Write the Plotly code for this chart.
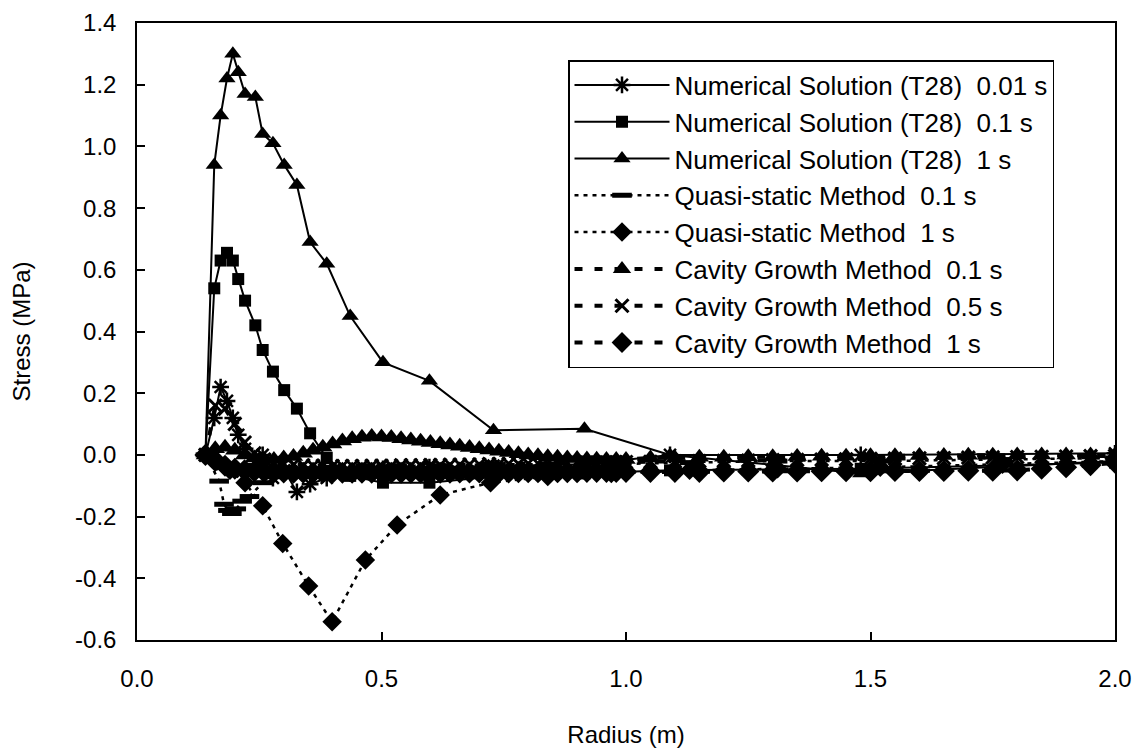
import plotly.graph_objects as go

# ---------------- data ----------------
# Numerical solution (T28) radii
r_num = [0.14, 0.158, 0.171, 0.184, 0.196, 0.207, 0.221, 0.242, 0.257, 0.278, 0.301,
         0.327, 0.354, 0.388, 0.436, 0.503, 0.598, 0.729, 0.915, 1.09, 1.48, 2.0]
num_001 = [0.0, 0.12, 0.22, 0.175, 0.12, 0.065, 0.02, -0.03, 0.0, -0.075, -0.05,
           -0.12, -0.095, -0.075, -0.06, -0.045, -0.04, -0.035, -0.03, 0.0, 0.0, 0.005]
num_01 = [0.0, 0.54, 0.63, 0.655, 0.63, 0.57, 0.50, 0.42, 0.34, 0.27, 0.21,
          0.15, 0.07, -0.01, -0.068, -0.09, -0.09, -0.07, -0.06, -0.05, -0.045, -0.025]
num_1 = [0.0, 0.94, 1.10, 1.22, 1.30, 1.24, 1.17, 1.16, 1.04, 1.01, 0.94,
         0.875, 0.69, 0.62, 0.45, 0.30, 0.24, 0.08, 0.085, 0.0, -0.06, -0.02]

# Quasi-static method
r_qs01 = [0.14, 0.168, 0.178, 0.186, 0.194, 0.203, 0.215, 0.23, 0.257, 0.298, 0.351, 0.399,
          0.467, 0.532, 0.62, 0.723, 0.84, 0.97, 1.13, 1.31, 1.52, 1.77, 2.0]
qs_01 = [0.0, -0.085, -0.16, -0.18, -0.19, -0.175, -0.15, -0.135, -0.09, -0.06, -0.045, -0.04,
         -0.035, -0.035, -0.035, -0.03, -0.03, -0.03, -0.025, -0.02, -0.02, -0.015, -0.01]
r_qs1 = [0.14, 0.164, 0.19, 0.221, 0.257, 0.298, 0.351, 0.399, 0.467, 0.532, 0.62, 0.723,
         0.84, 0.97, 1.13, 1.31, 1.52, 1.77, 2.0]
qs_1 = [0.0, -0.02, -0.05, -0.09, -0.165, -0.287, -0.425, -0.541, -0.341, -0.227, -0.13, -0.09,
        -0.07, -0.06, -0.05, -0.045, -0.04, -0.03, -0.02]

# Cavity growth method radii
r_cg = [0.14, 0.16, 0.18, 0.20, 0.22, 0.24, 0.26, 0.28, 0.30, 0.32, 0.34, 0.36, 0.38, 0.40,
        0.42, 0.44, 0.46, 0.48, 0.50, 0.52, 0.54, 0.56, 0.58, 0.60, 0.62, 0.64, 0.66, 0.68,
        0.70, 0.72, 0.74, 0.76, 0.78, 0.80, 0.82, 0.84, 0.86, 0.88, 0.90, 0.92, 0.94, 0.96,
        0.98, 1.00, 1.05, 1.10, 1.15, 1.20, 1.25, 1.30, 1.35, 1.40, 1.45, 1.50, 1.55, 1.60,
        1.65, 1.70, 1.75, 1.80, 1.85, 1.90, 1.95, 2.00]
cg_01 = [0.000, 0.020, 0.025, 0.015, 0.000, -0.010, -0.015, -0.015, -0.010, -0.005, 0.005,
         0.015, 0.025, 0.035, 0.045, 0.052, 0.057, 0.060, 0.058, 0.056, 0.052, 0.048, 0.044,
         0.040, 0.036, 0.032, 0.028, 0.024, 0.020, 0.016, 0.012, 0.008, 0.004, 0.000, -0.003,
         -0.006, -0.008, -0.010, -0.012, -0.013, -0.014, -0.015, -0.015, -0.015,
         -0.010, -0.010, -0.008, -0.008, -0.006, -0.006, -0.005, -0.004, -0.004, -0.003,
         -0.003, -0.002, -0.002, -0.001, -0.001, 0.000, 0.000, 0.000, 0.000, 0.000]
cg_05 = [0.000, 0.160, 0.150, 0.100, 0.040, 0.005, -0.015, -0.025, -0.030, -0.032, -0.034,
         -0.035, -0.035, -0.036, -0.036, -0.036, -0.036, -0.035, -0.035, -0.035, -0.034,
         -0.034, -0.034, -0.033, -0.033, -0.032, -0.032, -0.031, -0.031, -0.030, -0.030,
         -0.029, -0.029, -0.028, -0.028, -0.027, -0.027, -0.026, -0.026, -0.025, -0.025,
         -0.024, -0.024, -0.023,
         -0.022, -0.021, -0.020, -0.019, -0.018, -0.017, -0.016, -0.015, -0.014, -0.013,
         -0.012, -0.011, -0.010, -0.009, -0.008, -0.007, -0.006, -0.005, -0.004, -0.003]
cg_1 = [0.000, -0.020, -0.035, -0.045, -0.050, -0.053, -0.055, -0.056, -0.057, -0.058,
        -0.058, -0.058, -0.058, -0.058, -0.058, -0.058, -0.058, -0.058, -0.058, -0.058,
        -0.058, -0.058, -0.058, -0.058, -0.058, -0.058, -0.057, -0.057, -0.057, -0.057,
        -0.057, -0.057, -0.056, -0.056, -0.056, -0.056, -0.056, -0.056, -0.056, -0.055,
        -0.055, -0.055, -0.055, -0.055,
        -0.055, -0.055, -0.055, -0.054, -0.054, -0.054, -0.054, -0.053, -0.053, -0.053,
        -0.052, -0.052, -0.052, -0.051, -0.051, -0.050, -0.045, -0.040, -0.033, -0.025]

y_tickvals = [-0.6, -0.4, -0.2, 0.0, 0.2, 0.4, 0.6, 0.8, 1.0, 1.2, 1.4]
y_ticktext = ["-0.6", "-0.4", "-0.2", "0.0", "0.2", "0.4", "0.6", "0.8", "1.0", "1.2", "1.4"]
x_tickvals = [0.0, 0.5, 1.0, 1.5, 2.0]
x_ticktext = ["0.0", "0.5", "1.0", "1.5", "2.0"]

# ---------------- figure ----------------
FONT = "Liberation Sans, Arial, Helvetica, sans-serif"
BLACK = "black"

fig = go.Figure()


def add(name, x, y, dash, width, symbol, size, mline=0):
    fig.add_trace(go.Scatter(
        x=x, y=y, name=name, mode="lines+markers", legendgroup=name,
        line=dict(color=BLACK, width=width, dash=dash),
        marker=dict(symbol=symbol, size=size, color=BLACK,
                    line=dict(color=BLACK, width=mline)),
    ))


DOT = "4px,5px"
DASH = "8px,12px"

add("Numerical Solution (T28)  0.01 s", r_num, num_001, "solid", 2, "asterisk", 14, 2.5)
add("Numerical Solution (T28)  0.1 s", r_num, num_01, "solid", 2, "square", 12)
add("Numerical Solution (T28)  1 s", r_num, num_1, "solid", 2, "triangle-up", 15)
add("Quasi-static Method  0.1 s", r_qs01, qs_01, DOT, 2.5, "line-ew", 14, 5)
add("Quasi-static Method  1 s", r_qs1, qs_1, DOT, 2.5, "diamond", 15)
add("Cavity Growth Method  0.1 s", r_cg, cg_01, DASH, 4, "triangle-up", 17)
add("Cavity Growth Method  0.5 s", r_cg, cg_05, DASH, 4, "x-thin", 13, 3)
add("Cavity Growth Method  1 s", r_cg, cg_1, DASH, 4, "diamond", 17)

axis_common = dict(
    showline=True, linecolor=BLACK, linewidth=1.5, mirror=True,
    showgrid=False, zeroline=False,
    ticks="inside", tickcolor=BLACK, tickwidth=1.5, ticklen=8,
    tickfont=dict(family=FONT, size=24, color=BLACK),
    tickmode="array",
)

fig.update_layout(
    width=1135, height=753,
    paper_bgcolor="white", plot_bgcolor="white",
    margin=dict(l=137, r=20, t=23, b=113, autoexpand=False),
    font=dict(family=FONT, size=24, color=BLACK),
    xaxis=dict(range=[0, 2], tickvals=x_tickvals, ticktext=x_ticktext,
               ticklabelstandoff=16,
               title=dict(text="Radius (m)", standoff=36,
                          font=dict(family=FONT, size=24, color=BLACK)),
               **axis_common),
    yaxis=dict(range=[-0.6, 1.4], tickvals=y_tickvals, ticktext=y_ticktext,
               ticklabelstandoff=14,
               title=dict(text="Stress (MPa)", standoff=38,
                          font=dict(family=FONT, size=24, color=BLACK)),
               **axis_common),
    legend=dict(x=0.4407, y=0.94, xanchor="left", yanchor="top",
                bgcolor="white", bordercolor=BLACK, borderwidth=1.5,
                font=dict(family=FONT, size=26, color=BLACK),
                itemwidth=95, tracegroupgap=0, traceorder="grouped"),
    showlegend=True,
)

fig.write_html("out.html", config={"displayModeBar": False},
               post_script="document.body.style.margin='0';")
